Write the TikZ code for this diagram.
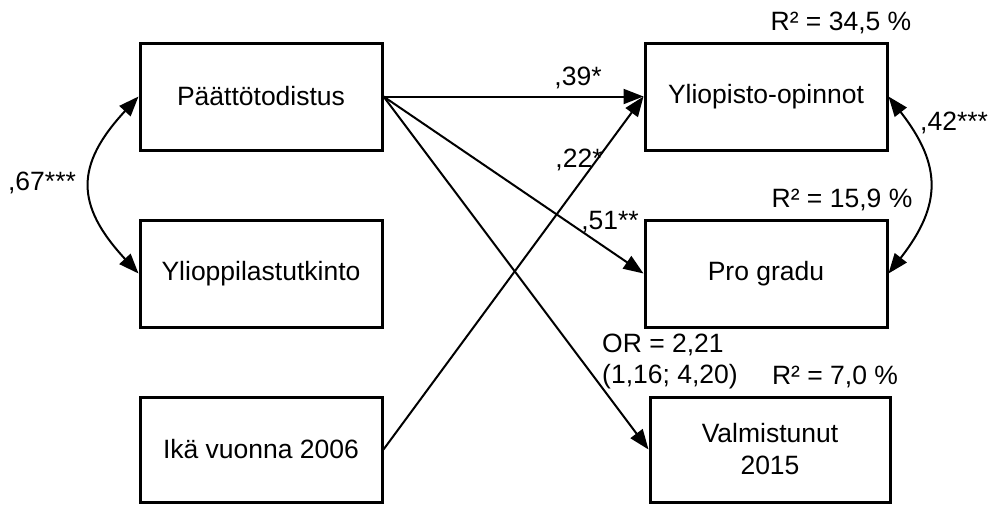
\documentclass[tikz,border=0pt]{standalone}
\usepackage{fontspec}
\setmainfont{Liberation Sans}
\usetikzlibrary{arrows.meta}
\begin{document}
\begin{tikzpicture}[x=1pt,y=-1pt,
  font=\fontsize{26.5}{32}\selectfont,
  box/.style={draw, line width=3pt, minimum width=242pt, minimum height=107pt, inner sep=0pt, align=center},
  arr/.style={line width=2pt, -{Triangle[length=20pt,width=15pt]}},
  darr/.style={line width=2pt, {Triangle[length=20pt,width=15pt]}-{Triangle[length=20pt,width=15pt]}},
  lab/.style={inner sep=0pt}]
\useasboundingbox (0,0) rectangle (989,504);
\node[box] (p) at (261,96.5) {Päättötodistus};
\node[box] (yl) at (261,273.5) {Ylioppilastutkinto};
\node[box, minimum height=105pt] (ika) at (261,449.5) {Ikä vuonna 2006};
\node[box] (yo) at (766,96.5) {Yliopisto-opinnot};
\node[box] (pg) at (766,273.5) {Pro gradu};
\node[box, minimum width=240pt, minimum height=105pt] (val) at (770,449.5) {Valmistunut\\2015};

\draw[arr] (p.east) -- (yo.west);
\draw[arr] (ika.east) -- (yo.west);
\draw[arr] (p.east) -- (pg.west);
\draw[arr] (p.east) -- (val.west);
\draw[darr] (p.west) .. controls (75,165) and (75,205) .. (yl.west);
\draw[darr] (yo.east) .. controls (942,165) and (942,205) .. (pg.east);

\node[lab] (l39) at (578,78) {,39*};
\node[lab] (l22) at (579,160) {,22*};
\node[lab] (l51) at (610,222) {,51**};
\node[lab] (l67) at (42,183) {,67***};
\node[lab, anchor=west] (l42) at (920,123) {,42***};
\node[lab] (r1) at (841,23) {R² = 34,5 \%};
\node[lab] (r2) at (842,200) {R² = 15,9 \%};
\node[lab] (r3) at (835,377) {R² = 7,0 \%};
\node[lab, anchor=west] (or1) at (602,345) {OR = 2,21};
\node[lab, anchor=west] (or2) at (602,377) {(1,16; 4,20)};
\end{tikzpicture}
\end{document}
